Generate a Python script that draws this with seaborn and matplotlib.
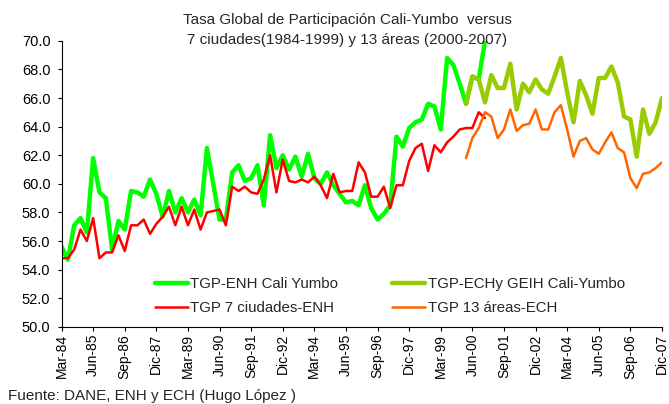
import matplotlib
matplotlib.use("Agg")
import pandas as pd
import seaborn as sns
import matplotlib.pyplot as plt

# quarterly series, index 0 = Mar-84 ... 95 = Dic-07
tick_labels = ["Mar-84", "Jun-85", "Sep-86", "Dic-87", "Mar-89", "Jun-90",
               "Sep-91", "Dic-92", "Mar-94", "Jun-95", "Sep-96", "Dic-97",
               "Mar-99", "Jun-00", "Sep-01", "Dic-02", "Mar-04", "Jun-05",
               "Sep-06", "Dic-07"]

ENH_START = 0
ECH_START = 64

cali_enh = [55.6, 54.7, 57.1, 57.6, 56.6, 61.8, 59.4, 59.0, 55.4, 57.4,
            56.8, 59.5, 59.4, 59.1, 60.3, 59.3, 57.7, 59.5, 58.0, 59.0,
            58.0, 58.9, 57.8, 62.5, 60.0, 57.5, 57.5, 60.8, 61.3, 60.2,
            60.4, 61.3, 58.5, 63.4, 61.1, 62.0, 61.0, 61.9, 60.5, 62.1,
            60.4, 60.0, 60.8, 59.9, 59.3, 58.7, 58.8, 58.5, 59.9, 58.3,
            57.5, 57.9, 58.5, 63.3, 62.6, 63.9, 64.3, 64.5, 65.6, 65.4,
            63.8, 68.8, 68.3, 67.0, 65.6, 67.5, 67.3, 70.0]

ciudades_enh = [54.8, 54.8, 55.4, 56.8, 56.0, 57.6, 54.8, 55.2, 55.2, 56.4,
                55.3, 57.1, 57.1, 57.5, 56.5, 57.2, 57.7, 58.4, 57.1, 58.4,
                57.1, 58.2, 56.8, 58.0, 58.1, 58.2, 57.1, 59.8, 59.5, 59.8,
                59.4, 59.3, 60.3, 62.0, 59.4, 61.7, 60.2, 60.1, 60.3, 60.1,
                60.5, 59.9, 59.0, 60.7, 59.4, 59.5, 59.5, 61.5, 60.8, 59.1,
                59.1, 59.8, 58.3, 59.9, 59.9, 61.6, 62.5, 62.8, 60.9, 62.7,
                62.2, 62.9, 63.3, 63.8, 63.9, 63.9, 65.0, 64.6]

cali_ech = [65.6, 67.5, 67.3, 65.7, 67.6, 66.7, 66.7, 68.4, 65.2, 67.0,
            66.4, 67.3, 66.6, 66.3, 67.5, 68.8, 66.4, 64.3, 67.2, 66.2,
            64.9, 67.4, 67.4, 68.2, 67.1, 64.7, 64.5, 61.9, 65.2, 63.5,
            64.3, 66.0]

areas_ech = [61.8, 63.2, 63.9, 65.0, 64.7, 63.2, 63.8, 65.2, 63.7, 64.1,
             64.2, 65.2, 63.8, 63.8, 65.0, 65.5, 63.8, 61.9, 63.0, 63.2,
             62.4, 62.1, 62.9, 63.6, 62.5, 62.2, 60.4, 59.7, 60.7, 60.8,
             61.1, 61.5]


def series_df(values, start):
    return pd.DataFrame({"quarter": range(start, start + len(values)),
                         "tgp": values})


def main():
    sns.set_style("ticks")
    plt.rcParams["font.family"] = ["Liberation Sans", "DejaVu Sans"]
    plt.rcParams["font.size"] = 10

    fig = plt.figure(figsize=(6.69, 4.04), dpi=100)
    ax = fig.add_axes([0.092, 0.191, 0.8975, 0.708])

    series = [
        (cali_enh, ENH_START, "#00FF00", 3.2, "TGP-ENH Cali Yumbo"),
        (ciudades_enh, ENH_START, "#FF0000", 1.8, "TGP 7 ciudades-ENH"),
        (cali_ech, ECH_START, "#99CC00", 3.2, "TGP-ECHy GEIH Cali-Yumbo"),
        (areas_ech, ECH_START, "#FF6600", 1.8, "TGP 13 áreas-ECH"),
    ]
    for values, start, color, lw, label in series:
        sns.lineplot(data=series_df(values, start), x="quarter", y="tgp",
                     color=color, linewidth=lw, label=label, ax=ax)

    ax.set_xlim(0, 95)
    ax.set_ylim(50, 70)
    ax.set_yticks(range(50, 71, 2))
    ax.set_yticklabels([f"{v:.1f}" for v in range(50, 71, 2)], fontsize=10.5)
    ax.set_xticks(range(0, 96, 5))
    ax.set_xticklabels(tick_labels, rotation=90, fontsize=10)
    ax.tick_params(axis="y", length=3, width=0.8, pad=5, colors="black")
    ax.tick_params(axis="x", length=3, width=0.8, pad=2, colors="black")
    ax.set_xlabel("")
    ax.set_ylabel("")
    sns.despine(ax=ax)
    for side in ("left", "bottom"):
        ax.spines[side].set_color("black")
        ax.spines[side].set_linewidth(0.8)

    ax.legend(ncol=2, frameon=False, loc="upper left",
              bbox_to_anchor=(155 / 669, 1 - 277 / 404),
              bbox_transform=fig.transFigure, borderpad=0,
              borderaxespad=0, handlelength=2.2, handletextpad=0.15,
              columnspacing=3.6, labelspacing=0.7, fontsize=10.8)

    fig.text(347 / 669, 1 - 20 / 404,
             "Tasa Global de Participación Cali-Yumbo  versus",
             ha="center", va="center", fontsize=11)
    fig.text(347 / 669, 1 - 40 / 404,
             "7 ciudades(1984-1999) y 13 áreas (2000-2007)",
             ha="center", va="center", fontsize=11)
    fig.text(8 / 669, 1 - 396 / 404,
             "Fuente: DANE, ENH y ECH (Hugo López )",
             ha="left", va="center", fontsize=11)

    fig.savefig("out.png", dpi=100)
    plt.close(fig)


if __name__ == "__main__":
    main()
